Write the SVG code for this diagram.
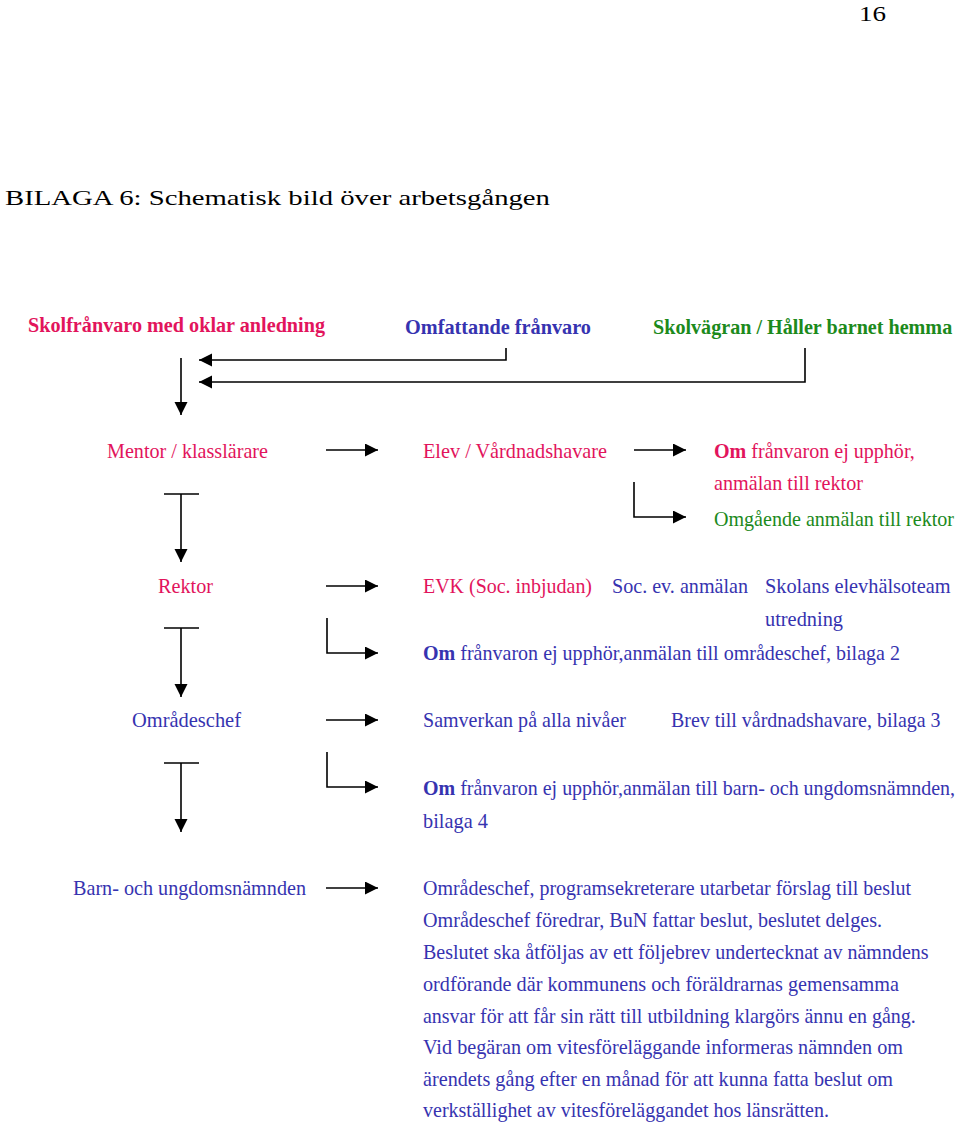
<svg xmlns="http://www.w3.org/2000/svg" width="960" height="1126" viewBox="0 0 960 1126">
<style>
text{font-family:"Liberation Serif","Times New Roman",serif;font-size:22px}
.r{fill:#e2145c}
.b{fill:#3633b0}
.g{fill:#1c8a1c}
.k{fill:#000}
.h{font-weight:bold}
.ln{stroke:#000;stroke-width:1.6;fill:none}
</style>
<defs>
<marker id="ah" markerUnits="userSpaceOnUse" markerWidth="14" markerHeight="14" refX="13" refY="6.5" orient="auto">
<path d="M0,0 L13,6.5 L0,13 z" fill="#000"/>
</marker>
</defs>
<rect width="960" height="1126" fill="#fff"/>
<text class="k" x="859" y="21" font-size="24" textLength="27" lengthAdjust="spacingAndGlyphs">16</text>
<text class="k" x="5" y="205" font-size="26" textLength="545" lengthAdjust="spacingAndGlyphs">BILAGA 6: Schematisk bild över arbetsgången</text>

<g id="heading-oklar"><text class="r h" x="28" y="332" textLength="297" lengthAdjust="spacingAndGlyphs">Skolfrånvaro med oklar anledning</text></g>
<g id="heading-omfattande"><text class="b h" x="405" y="334" textLength="186" lengthAdjust="spacingAndGlyphs">Omfattande frånvaro</text></g>
<g id="heading-skolvagran"><text class="g h" transform="translate(653,334) scale(0.8,1)" x="0" y="0" textLength="374" lengthAdjust="spacingAndGlyphs">Skolvägran / Håller barnet hemma</text></g>

<g id="mentor"><text class="r" x="107" y="458" textLength="161" lengthAdjust="spacingAndGlyphs">Mentor / klasslärare</text></g>
<g id="elev"><text class="r" x="423" y="458" textLength="184" lengthAdjust="spacingAndGlyphs">Elev / Vårdnadshavare</text></g>
<g id="om-rektor"><text class="r" transform="translate(714,458) scale(0.8,1)" x="0" y="0" textLength="251" lengthAdjust="spacingAndGlyphs"><tspan class="h">Om</tspan> frånvaron ej upphör,</text>
<text class="r" x="714" y="490" textLength="149" lengthAdjust="spacingAndGlyphs">anmälan till rektor</text></g>
<g id="omgaende"><text class="g" transform="translate(714,526) scale(0.8,1)" x="0" y="0" textLength="300" lengthAdjust="spacingAndGlyphs">Omgående anmälan till rektor</text></g>

<g id="rektor"><text class="r" x="158" y="593" textLength="55" lengthAdjust="spacingAndGlyphs">Rektor</text></g>
<g id="evk"><text class="r" x="423" y="593" textLength="169" lengthAdjust="spacingAndGlyphs">EVK (Soc. inbjudan)</text></g>
<g id="soc"><text class="b" x="612" y="593" textLength="136" lengthAdjust="spacingAndGlyphs">Soc. ev. anmälan</text></g>
<g id="elevhalsoteam"><text class="b" transform="translate(765,593) scale(0.8,1)" x="0" y="0" textLength="232" lengthAdjust="spacingAndGlyphs">Skolans elevhälsoteam</text>
<text class="b" x="765" y="626" textLength="78" lengthAdjust="spacingAndGlyphs">utredning</text></g>
<g id="om-omradeschef"><text class="b" x="423" y="660" textLength="477" lengthAdjust="spacingAndGlyphs"><tspan class="h">Om</tspan> frånvaron ej upphör,anmälan till områdeschef, bilaga 2</text></g>

<g id="omradeschef"><text class="b" x="132" y="727" textLength="109" lengthAdjust="spacingAndGlyphs">Områdeschef</text></g>
<g id="samverkan"><text class="b" x="423" y="727" textLength="203" lengthAdjust="spacingAndGlyphs">Samverkan på alla nivåer</text></g>
<g id="brev"><text class="b" transform="translate(671,727) scale(0.8,1)" x="0" y="0" textLength="337" lengthAdjust="spacingAndGlyphs">Brev till vårdnadshavare, bilaga 3</text></g>
<g id="om-bun"><text class="b" transform="translate(423,795) scale(0.8,1)" x="0" y="0" textLength="665" lengthAdjust="spacingAndGlyphs"><tspan class="h">Om</tspan> frånvaron ej upphör,anmälan till barn- och ungdomsnämnden,</text>
<text class="b" x="423" y="828" textLength="65" lengthAdjust="spacingAndGlyphs">bilaga 4</text></g>

<g id="bun"><text class="b" x="73" y="895" textLength="233" lengthAdjust="spacingAndGlyphs">Barn- och ungdomsnämnden</text></g>
<g id="beslut">
<text class="b" transform="translate(423,895) scale(0.8,1)" x="0" y="0" textLength="610" lengthAdjust="spacingAndGlyphs">Områdeschef, programsekreterare utarbetar förslag till beslut</text>
<text class="b" x="423" y="927" textLength="459" lengthAdjust="spacingAndGlyphs">Områdeschef föredrar, BuN fattar beslut, beslutet delges.</text>
<text class="b" transform="translate(423,959) scale(0.8,1)" x="0" y="0" textLength="632" lengthAdjust="spacingAndGlyphs">Beslutet ska åtföljas av ett följebrev undertecknat av nämndens</text>
<text class="b" x="423" y="991" textLength="476" lengthAdjust="spacingAndGlyphs">ordförande  där kommunens och föräldrarnas gemensamma</text>
<text class="b" transform="translate(423,1023) scale(0.8,1)" x="0" y="0" textLength="616" lengthAdjust="spacingAndGlyphs">ansvar för att får sin rätt till utbildning klargörs ännu en gång.</text>
<text class="b" x="423" y="1054" textLength="480" lengthAdjust="spacingAndGlyphs">Vid begäran om vitesföreläggande informeras nämnden om</text>
<text class="b" x="423" y="1086" textLength="470" lengthAdjust="spacingAndGlyphs">ärendets gång efter en månad för att kunna fatta beslut om</text>
<text class="b" x="423" y="1117" textLength="406" lengthAdjust="spacingAndGlyphs">verkställighet av vitesföreläggandet hos länsrätten.</text>
</g>

<g id="connectors">
<polyline class="ln" points="506,348 506,360 199,360" marker-end="url(#ah)"/>
<polyline class="ln" points="805,348 805,382 199,382" marker-end="url(#ah)"/>
<line class="ln" x1="181" y1="358" x2="181" y2="415" marker-end="url(#ah)"/>

<line class="ln" x1="326" y1="450" x2="378" y2="450" marker-end="url(#ah)"/>
<line class="ln" x1="634" y1="450" x2="686" y2="450" marker-end="url(#ah)"/>
<polyline class="ln" points="634,482 634,517 686,517" marker-end="url(#ah)"/>
<line class="ln" x1="164" y1="494" x2="199" y2="494"/>
<line class="ln" x1="181" y1="494" x2="181" y2="562" marker-end="url(#ah)"/>

<line class="ln" x1="326" y1="586" x2="378" y2="586" marker-end="url(#ah)"/>
<polyline class="ln" points="327,618 327,653 378,653" marker-end="url(#ah)"/>
<line class="ln" x1="164" y1="628" x2="199" y2="628"/>
<line class="ln" x1="181" y1="628" x2="181" y2="697" marker-end="url(#ah)"/>

<line class="ln" x1="326" y1="720" x2="378" y2="720" marker-end="url(#ah)"/>
<polyline class="ln" points="327,752 327,787 378,787" marker-end="url(#ah)"/>
<line class="ln" x1="164" y1="763" x2="199" y2="763"/>
<line class="ln" x1="181" y1="763" x2="181" y2="832" marker-end="url(#ah)"/>

<line class="ln" x1="326" y1="888" x2="378" y2="888" marker-end="url(#ah)"/>
</g>
</svg>
